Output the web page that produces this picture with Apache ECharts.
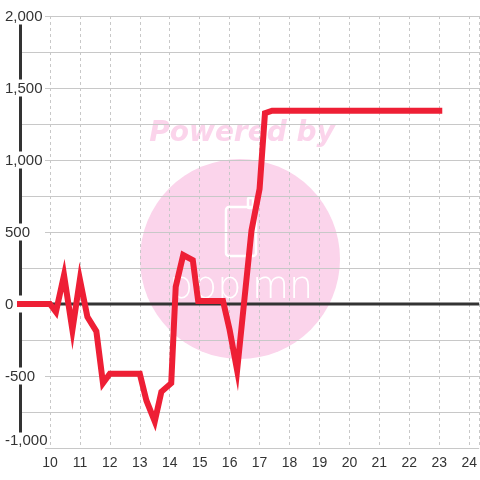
<!DOCTYPE html>
<html>
<head>
<meta charset="utf-8">
<style>html,body{margin:0;padding:0;background:#fff;}#c{width:480px;height:480px;}</style>
<script src="https://cdn.jsdelivr.net/npm/echarts@6/dist/echarts.min.js"></script>
</head>
<body>
<div id="c"></div>
<script>
const xValues = [9, 10, 10.2, 10.47, 10.75, 11, 11.25, 11.55, 11.77, 12, 13, 13.22, 13.5, 13.72, 14.05, 14.2, 14.45, 14.77, 14.95, 15.78, 16, 16.25, 16.73, 17, 17.18, 17.42, 23];
const yValues = [0, 0, -55, 200, -180, 170, -90, -190, -550, -485, -485, -670, -815, -610, -550, 120, 340, 305, 20, 20, -180, -460, 510, 800, 1325, 1342, 1342];
const xTicks = [10, 11, 12, 13, 14, 15, 16, 17, 18, 19, 20, 21, 22, 23, 24];
const yTicks = [-1000, -500, 0, 500, 1000, 1500, 2000];
const zeroLine = [[9, 0], [24.333, 0]];

const chart = echarts.init(document.getElementById('c'), null, {renderer: 'canvas'});
const fmt = v => {
  const s = Math.abs(v).toString().replace(/\B(?=(\d{3})+(?!\d))/g, ',');
  return (v < 0 ? '-' : '') + s;
};
chart.setOption({
  animation: false,
  backgroundColor: '#fff',
  grid: {left: 20, right: 0, top: 16, bottom: 32, containLabel: false},
  graphic: [
    {type: 'circle', z: -10, shape: {cx: 240, cy: 259, r: 100}, style: {fill: '#fbd4eb'}, silent: true},
    {type: 'text', z: -10, x: 242, y: 134, style: {text: 'Powered by', fill: '#fbd4eb', font: 'italic bold 28px "DejaVu Sans"', align: 'center', verticalAlign: 'middle'}, silent: true},
    {type: 'rect', z: -9, shape: {x: 226, y: 207, width: 30, height: 49, r: 3}, style: {fill: 'none', stroke: '#fff', lineWidth: 2.5}, silent: true},
    {type: 'rect', z: -9, shape: {x: 248, y: 198, width: 5, height: 10, r: 1}, style: {fill: 'none', stroke: '#fff', lineWidth: 2.5}, silent: true},
    {type: 'text', z: -9, x: 241, y: 288, style: {text: 'ɒɒpımn', fill: '#fff', font: '200 38px "DejaVu Sans"', align: 'center', verticalAlign: 'middle'}, silent: true}
  ],
  xAxis: {
    type: 'value', min: 9, max: 24.333, interval: 1,
    axisLine: {show: false}, axisTick: {show: false},
    axisLabel: {color: '#333', fontSize: 14, fontFamily: 'Liberation Sans, Arial', margin: 8, showMinLabel: false, showMaxLabel: false,
      formatter: v => (xTicks.indexOf(v) >= 0 ? String(v) : '')},
    splitLine: {show: true, lineStyle: {color: '#c8c8c8', width: 1, type: [3, 3]}}
  },
  yAxis: [
    {
      type: 'value', min: -1000, max: 2000, interval: 250,
      axisLine: {show: false}, axisTick: {show: false}, axisLabel: {show: false},
      splitLine: {show: true, lineStyle: {color: '#c8c8c8', width: 1}}
    },
    {
      type: 'value', min: -1000, max: 2000, interval: 500, position: 'left', z: 3,
      axisLine: {show: true, onZero: false, lineStyle: {color: '#333', width: 3}},
      axisTick: {show: false},
      splitLine: {show: false},
      axisLabel: {color: '#333', fontSize: 15, fontFamily: 'Liberation Sans, Arial', align: 'left', margin: 15,
        backgroundColor: '#fff', width: 40, lineHeight: 16, padding: [1, 0, 0, 0],
        rich: {low: {fontSize: 15, fontFamily: 'Liberation Sans, Arial', color: '#333', lineHeight: 30, verticalAlign: 'top'}},
        formatter: v => {
          if (yTicks.indexOf(v) < 0) return '';
          return v === yTicks[0] ? '{low|' + fmt(v) + '}' : fmt(v);
        }}
    }
  ],
  series: [
    {type: 'line', yAxisIndex: 0, data: zeroLine, symbol: 'none', silent: true, z: 3,
      lineStyle: {color: '#333', width: 3}},
    {type: 'line', yAxisIndex: 0, data: xValues.map((x, i) => [x, yValues[i]]), symbol: 'none', z: 4, clip: false,
      lineStyle: {color: '#ee1f35', width: 6, cap: 'square', join: 'miter'}}
  ]
});
</script>
</body>
</html>
